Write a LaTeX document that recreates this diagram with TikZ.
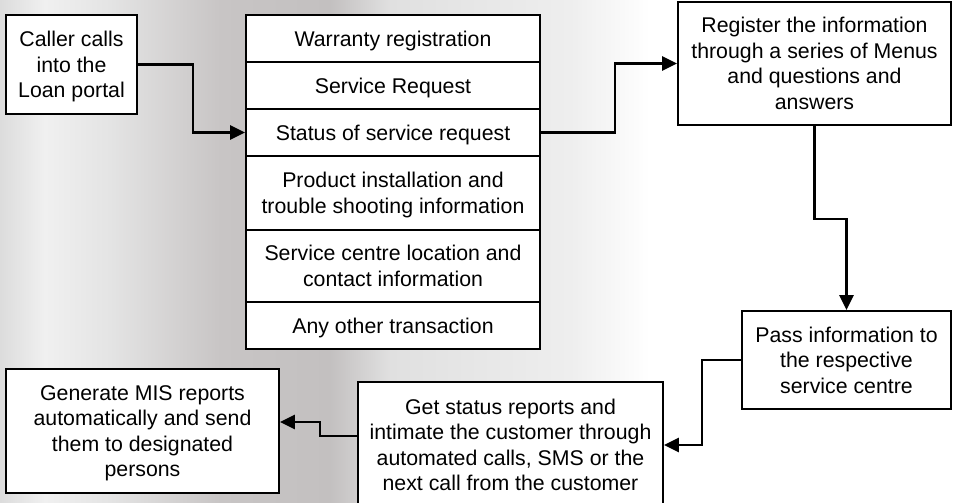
\documentclass[tikz,border=0pt]{standalone}
\usepackage{fontspec}
\setmainfont{Liberation Sans}
\usetikzlibrary{arrows.meta,calc}
\definecolor{bgA}{HTML}{DCDCDC}
\definecolor{bgB}{HTML}{F0F0F0}
\definecolor{bgC}{HTML}{E4E4E4}
\definecolor{bgD}{HTML}{C8C5C5}
\definecolor{bgE}{HTML}{C3C0C0}
\definecolor{bgF}{HTML}{E0E0E0}
\definecolor{bgG}{HTML}{EEEEEE}
\newcommand{\dfont}{\fontsize{21.3}{25.5}\selectfont}
\newcommand{\tx}[1]{\raisebox{-2.5pt}[\height][\depth]{\begin{tabular}{@{}c@{}}#1\end{tabular}}}
\tikzset{
  box/.style={draw=black, line width=1.8pt, fill=white, inner sep=0pt, font=\dfont},
  rowbox/.style={box, minimum width=294pt},
  conn/.style={draw=black, line width=2.6pt, -{Triangle[length=15pt,width=14pt]}},
}
\begin{document}
\begin{tikzpicture}[x=1pt,y=-1pt]
\useasboundingbox (0,0) rectangle (954,503);
\clip (0,0) rectangle (954,503);
% background
\fill[white] (0,0) rectangle (954,503);
\shade[left color=bgA,right color=bgB] (0,0) rectangle (45,503);
\shade[left color=bgB,right color=bgC] (45,0) rectangle (110,503);
\shade[left color=bgC,right color=bgD] (110,0) rectangle (220,503);
\shade[left color=bgD,right color=bgE] (220,0) rectangle (330,503);
\shade[left color=bgE,right color=bgF] (330,0) rectangle (390,503);
\shade[left color=bgF,right color=bgG] (390,0) rectangle (570,503);
\shade[left color=bgG,right color=white] (570,0) rectangle (650,503);

% nodes
\node[box, minimum width=131pt, minimum height=99pt] (caller) at (71.5,64.5)
  {\tx{Caller calls\\into the\\Loan portal}};

\node[rowbox, minimum height=47pt] (r1) at (393,38.5) {\tx{Warranty registration}};
\node[rowbox, minimum height=47pt] (r2) at (393,85.5) {\tx{Service Request}};
\node[rowbox, minimum height=47pt] (r3) at (393,132.5) {\tx{Status of service request}};
\node[rowbox, minimum height=74pt] (r4) at (393,193) {\tx{Product installation and\\trouble shooting information}};
\node[rowbox, minimum height=72pt] (r5) at (393,266) {\tx{Service centre location and\\contact information}};
\node[rowbox, minimum height=47pt] (r6) at (393,325.5) {\tx{Any other transaction}};

\node[box, minimum width=273pt, minimum height=123pt] (reg) at (814.5,63.5)
  {\tx{Register the information\\through a series of Menus\\and questions and\\answers}};

\node[box, minimum width=209pt, minimum height=98pt] (pass) at (846.5,360)
  {\tx{Pass information to\\the respective\\service centre}};

\node[box, minimum width=305pt, minimum height=126pt] (get) at (510.5,445)
  {\tx{Get status reports and\\intimate the customer through\\automated calls, SMS or the\\next call from the customer}};

\node[box, minimum width=273pt, minimum height=124pt] (gen) at (142.5,431)
  {\tx{Generate MIS reports\\automatically and send\\them to designated\\persons}};

% connectors
\draw[conn] (caller.east) -- ++(55,0) |- (r3.west);
\draw[conn] (r3.east) -- ++(74,0) |- (reg.west);
\draw[conn] (reg.south) -- ++(0,93) -| (pass.north);
\draw[conn] (pass.west) -- ++(-39,0) |- (get.east);
\draw[conn] ($(get.west)+(0,-9)$) -- ++(-37,0) |- ($(gen.east)+(0,-9)$);
\end{tikzpicture}
\end{document}
